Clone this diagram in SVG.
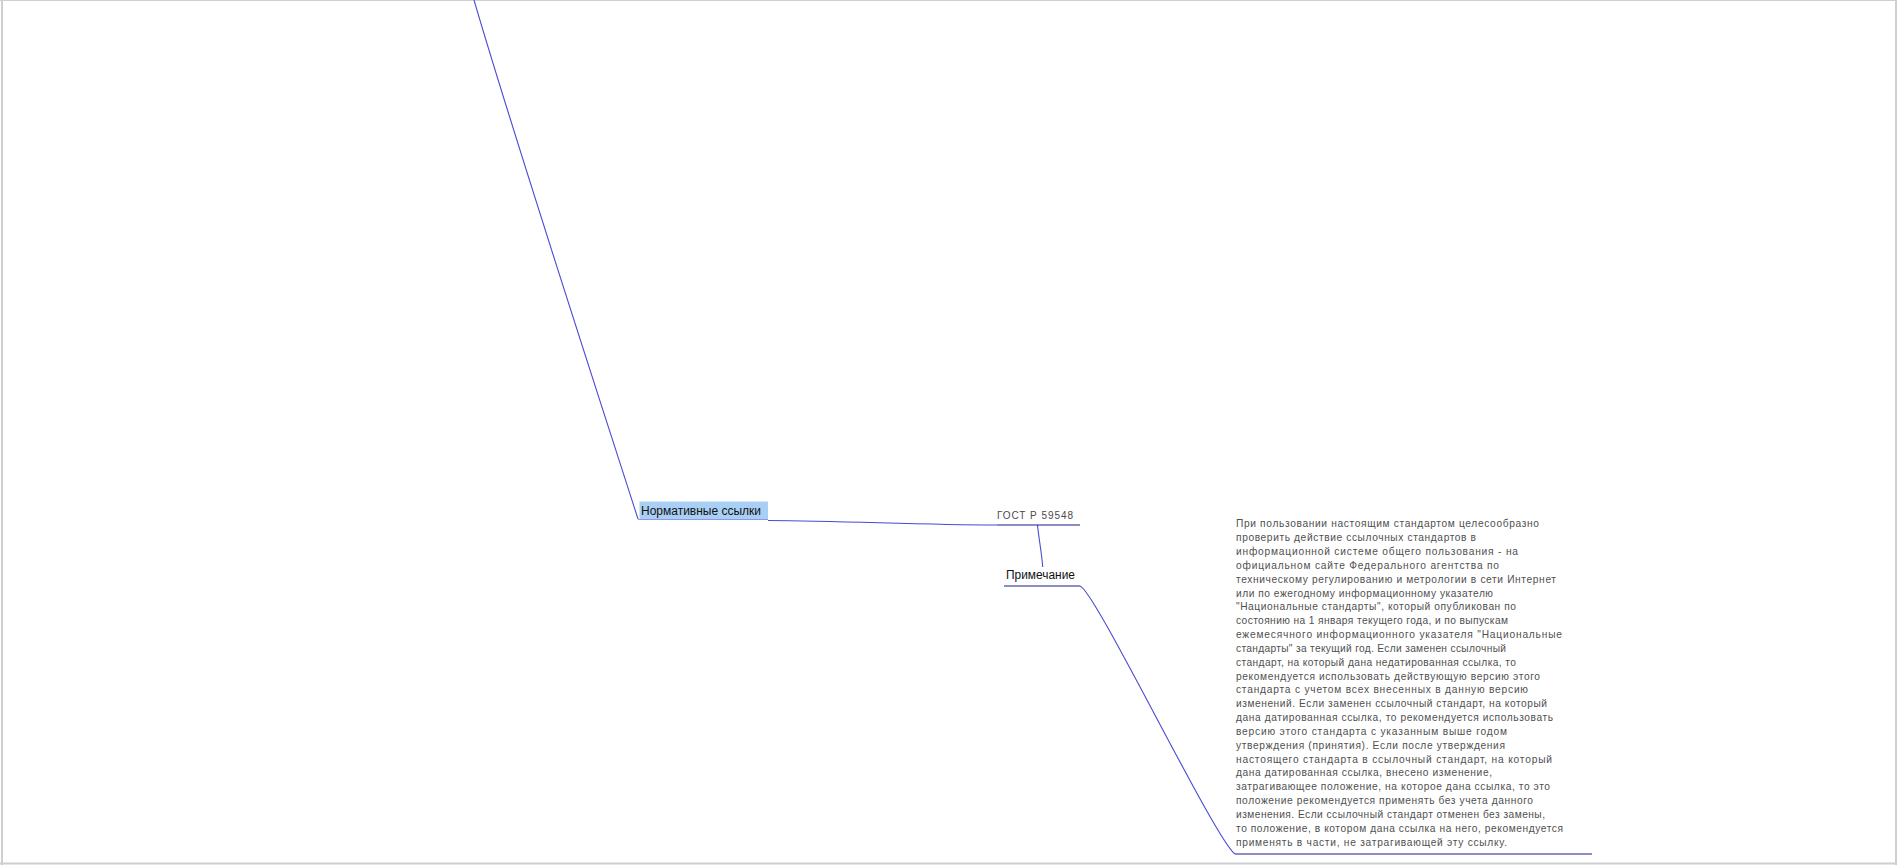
<svg xmlns="http://www.w3.org/2000/svg" width="1897" height="865" viewBox="0 0 1897 865">
<style>
.conn{fill:none;stroke:#4a4ad6;stroke-width:1.1}
.uline{fill:none;stroke:#1c1c8e;stroke-width:1.2}
.lbl{font-family:"Liberation Sans",Arial,sans-serif;font-size:12.5px;fill:#111}
.small{font-family:"Liberation Sans",Arial,sans-serif;font-size:10px;fill:#4a4a4a}
.note{font-family:"Liberation Sans",Arial,sans-serif;font-size:10.2px;fill:#505050}
</style>
<rect x="0" y="0" width="1897" height="865" fill="#ffffff"/>
<g id="frame" fill="none" stroke="#cfcfcf">
<line x1="0" y1="0.5" x2="1897" y2="0.5" stroke-width="1"/>
<line x1="2" y1="0" x2="2" y2="865" stroke-width="2"/>
<line x1="1896" y1="0" x2="1896" y2="865" stroke-width="2"/>
<line x1="0" y1="863.5" x2="1897" y2="863.5" stroke-width="2"/>
</g>
<g id="connectors">
<path class="conn" d="M474,0 C515,140 595,385 638,519"/>
<path class="conn" d="M768,520.5 C850,521 920,525 997,525"/>
<path class="conn" d="M1037.5,525 C1039,540 1042,555 1042.7,567"/>
<path class="conn" d="M1080,586 C1095,590 1215,840 1235,854"/>
</g>
<g id="node-normativnye">
<rect x="639.5" y="501.5" width="128.5" height="17.5" fill="#a9cff4"/>
<line x1="638" y1="519.5" x2="768" y2="519.5" stroke="#8a9ae6" stroke-width="1"/>
<text class="lbl" x="641" y="514.5" textLength="120" lengthAdjust="spacingAndGlyphs">Нормативные ссылки</text>
</g>
<g id="node-gost">
<text class="small" x="997" y="519.3" textLength="76" lengthAdjust="spacing">ГОСТ Р 59548</text>
<line class="uline" x1="997" y1="525" x2="1080" y2="525"/>
</g>
<g id="node-primechanie">
<text class="lbl" x="1006" y="579" textLength="69" lengthAdjust="spacingAndGlyphs">Примечание</text>
<line class="uline" x1="1004" y1="586" x2="1080" y2="586"/>
</g>
<g id="node-note">
<text class="note" x="1236" y="527.3" textLength="303" lengthAdjust="spacing">При пользовании настоящим стандартом целесообразно</text>
<text class="note" x="1236" y="541.1" textLength="240" lengthAdjust="spacing">проверить действие ссылочных стандартов в</text>
<text class="note" x="1236" y="555.0" textLength="282" lengthAdjust="spacing">информационной системе общего пользования - на</text>
<text class="note" x="1236" y="568.8" textLength="263" lengthAdjust="spacing">официальном сайте Федерального агентства по</text>
<text class="note" x="1236" y="582.6" textLength="320" lengthAdjust="spacing">техническому регулированию и метрологии в сети Интернет</text>
<text class="note" x="1236" y="596.5" textLength="257" lengthAdjust="spacing">или по ежегодному информационному указателю</text>
<text class="note" x="1236" y="610.3" textLength="280" lengthAdjust="spacing">"Национальные стандарты", который опубликован по</text>
<text class="note" x="1236" y="624.1" textLength="272" lengthAdjust="spacing">состоянию на 1 января текущего года, и по выпускам</text>
<text class="note" x="1236" y="638.0" textLength="326" lengthAdjust="spacing">ежемесячного информационного указателя "Национальные</text>
<text class="note" x="1236" y="651.8" textLength="270" lengthAdjust="spacing">стандарты" за текущий год. Если заменен ссылочный</text>
<text class="note" x="1236" y="665.6" textLength="280" lengthAdjust="spacing">стандарт, на который дана недатированная ссылка, то</text>
<text class="note" x="1236" y="679.5" textLength="304" lengthAdjust="spacing">рекомендуется использовать действующую версию этого</text>
<text class="note" x="1236" y="693.3" textLength="292" lengthAdjust="spacing">стандарта с учетом всех внесенных в данную версию</text>
<text class="note" x="1236" y="707.1" textLength="311" lengthAdjust="spacing">изменений. Если заменен ссылочный стандарт, на который</text>
<text class="note" x="1236" y="721.0" textLength="317" lengthAdjust="spacing">дана датированная ссылка, то рекомендуется использовать</text>
<text class="note" x="1236" y="734.8" textLength="271" lengthAdjust="spacing">версию этого стандарта с указанным выше годом</text>
<text class="note" x="1236" y="748.6" textLength="269" lengthAdjust="spacing">утверждения (принятия). Если после утверждения</text>
<text class="note" x="1236" y="762.5" textLength="316" lengthAdjust="spacing">настоящего стандарта в ссылочный стандарт, на который</text>
<text class="note" x="1236" y="776.3" textLength="256" lengthAdjust="spacing">дана датированная ссылка, внесено изменение,</text>
<text class="note" x="1236" y="790.1" textLength="314" lengthAdjust="spacing">затрагивающее положение, на которое дана ссылка, то это</text>
<text class="note" x="1236" y="804.0" textLength="297" lengthAdjust="spacing">положение рекомендуется применять без учета данного</text>
<text class="note" x="1236" y="817.8" textLength="309" lengthAdjust="spacing">изменения. Если ссылочный стандарт отменен без замены,</text>
<text class="note" x="1236" y="831.6" textLength="327" lengthAdjust="spacing">то положение, в котором дана ссылка на него, рекомендуется</text>
<text class="note" x="1236" y="845.5" textLength="271" lengthAdjust="spacing">применять в части, не затрагивающей эту ссылку.</text>
<line class="uline" x1="1235" y1="854" x2="1592" y2="854"/>
</g>
</svg>
